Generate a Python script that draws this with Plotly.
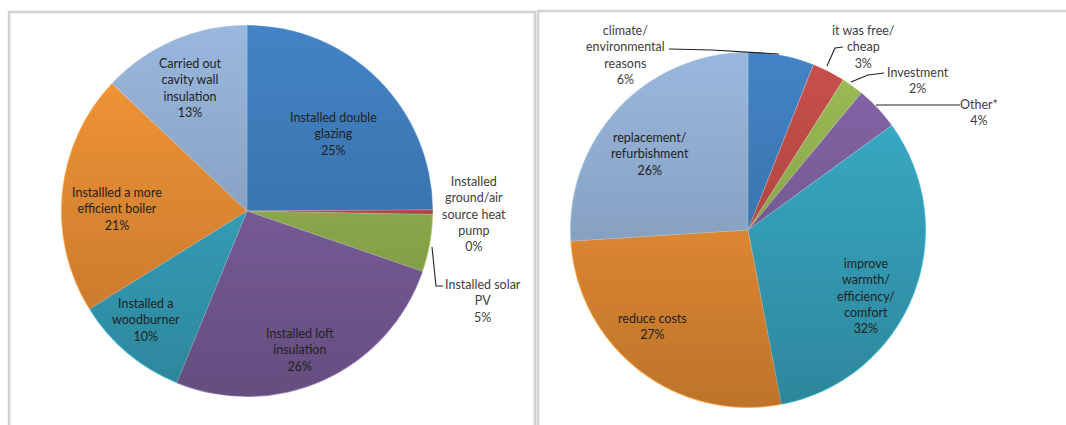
import base64
import struct
import zlib

import numpy as np
import plotly.graph_objects as go

W, H = 1066, 425

# ---- Left chart: energy measures carried out ----
measure_labels = [
    "Installed double<br>glazing",
    "Installed<br>ground/air<br>source heat<br>pump",
    "Installed solar<br>PV",
    "Installed loft<br>insulation",
    "Installed a<br>woodburner",
    "Installled a more<br>efficient boiler",
    "Carried out<br>cavity wall<br>insulation",
]
measure_values = [25, 0.4, 5, 26, 10, 21, 13]

# ---- Right chart: reasons given ----
reason_labels = [
    "climate/<br>environmental<br>reasons",
    "it was free/<br>cheap",
    "Investment",
    "Other*",
    "improve<br>warmth/<br>efficiency/<br>comfort",
    "reduce costs",
    "replacement/<br>refurbishment",
]
reason_values = [6, 3, 2, 4, 32, 27, 26]

# Office-style palette (lighter top tone; a shading overlay darkens downwards)
measure_colors = ["#4384c6", "#c9504b", "#9cbd55", "#8566a8", "#3bb0cc", "#f89838", "#9ab8de"]
reason_colors = ["#4384c6", "#c9504b", "#9cbd55", "#8566a8", "#3bb0cc", "#f89838", "#9ab8de"]

# pie geometry in pixels: centre x, centre y (from top), radius
LEFT_PIE = (247, 211, 186)
RIGHT_PIE = (748, 230, 178)

# label centres in pixels (x, y from top), one per slice
measure_label_pos = [(333, 134), (474, 214), (483, 301), (300, 350), (146, 320), (117, 209), (190, 88)]
reason_label_pos = [(625, 55), (863, 47), (918, 81), (979, 112), (866, 296), (652, 326), (650, 154)]
measure_outside = [False, True, True, False, False, False, False]
reason_outside = [True, True, True, True, False, False, False]

# leader lines, pixel polylines
leaders = [
    [(432, 247), (436, 286), (443, 286)],
    [(669, 49), (712, 50), (779, 54)],
    [(827, 66), (835, 48), (843, 47)],
    [(851, 82), (868, 75), (884, 73)],
    [(876, 105), (960, 105)],
]


def px(x):
    return x / W


def py(y):
    return 1 - y / H


def domain(pie):
    cx, cy, r = pie
    return dict(x=[px(cx - r), px(cx + r)], y=[py(cy + r), py(cy - r)])


def shade_png(size, max_alpha=0.24):
    """Round, vertically graded translucent black disc as a PNG data URI."""
    yy, xx = np.mgrid[0:size, 0:size] + 0.5
    c = size / 2
    dist = np.sqrt((xx - c) ** 2 + (yy - c) ** 2)
    edge = np.clip(c - 0.6 - dist, 0, 1)
    alpha = edge * (yy / size) * max_alpha
    img = np.zeros((size, size, 4), dtype=np.uint8)
    img[..., 3] = (alpha * 255).astype(np.uint8)
    raw = b"".join(b"\x00" + img[i].tobytes() for i in range(size))

    def chunk(tag, data):
        return struct.pack(">I", len(data)) + tag + data + struct.pack(">I", zlib.crc32(tag + data) & 0xFFFFFFFF)

    png = b"\x89PNG\r\n\x1a\n" + chunk(b"IHDR", struct.pack(">IIBBBBB", size, size, 8, 6, 0, 0, 0))
    png += chunk(b"IDAT", zlib.compress(raw, 9)) + chunk(b"IEND", b"")
    return "data:image/png;base64," + base64.b64encode(png).decode()


FONT = "Lato, 'Open Sans', sans-serif"

fig = go.Figure()
for labels, values, colors, pie in [
    (measure_labels, measure_values, measure_colors, LEFT_PIE),
    (reason_labels, reason_values, reason_colors, RIGHT_PIE),
]:
    fig.add_trace(go.Pie(
        labels=labels,
        values=values,
        sort=False,
        direction="clockwise",
        rotation=0,
        textinfo="none",
        marker=dict(colors=colors, line=dict(color="rgba(255,255,255,0.35)", width=0.6)),
        domain=domain(pie),
        showlegend=False,
    ))

annotations = []
for labels, values, pos, outside in [
    (measure_labels, measure_values, measure_label_pos, measure_outside),
    (reason_labels, reason_values, reason_label_pos, reason_outside),
]:
    total = sum(values)
    for lab, v, (x, y), out in zip(labels, values, pos, outside):
        pct = round(v / total * 100)
        annotations.append(dict(
            x=px(x), y=py(y), xref="paper", yref="paper",
            text=f"{lab}<br>{pct}%", showarrow=False, align="center",
            xanchor="center", yanchor="middle",
            font=dict(family=FONT, size=12.5, color="#404040" if out else "#222222"),
        ))

shapes = [
    # chart frames
    dict(type="rect", xref="paper", yref="paper", x0=px(9), x1=px(535), y0=py(460), y1=py(12),
         line=dict(color="#d2d2d2", width=2.5), layer="below"),
    dict(type="rect", xref="paper", yref="paper", x0=px(538), x1=px(1090), y0=py(460), y1=py(11),
         line=dict(color="#d2d2d2", width=2.5), layer="below"),
]
for line in leaders:
    path = "M " + " L ".join(f"{px(x)},{py(y)}" for x, y in line)
    shapes.append(dict(type="path", xref="paper", yref="paper", path=path,
                       line=dict(color="#222222", width=1.1)))

images = []
for cx, cy, r in (LEFT_PIE, RIGHT_PIE):
    images.append(dict(
        source=shade_png(2 * r), xref="paper", yref="paper",
        x=px(cx - r), y=py(cy - r), sizex=2 * r / W, sizey=2 * r / H,
        xanchor="left", yanchor="top", sizing="stretch", layer="above",
    ))

fig.update_layout(
    width=W, height=H,
    margin=dict(l=0, r=0, t=0, b=0),
    paper_bgcolor="white", plot_bgcolor="white",
    annotations=annotations, shapes=shapes, images=images,
)

fig.write_html("out.html")
